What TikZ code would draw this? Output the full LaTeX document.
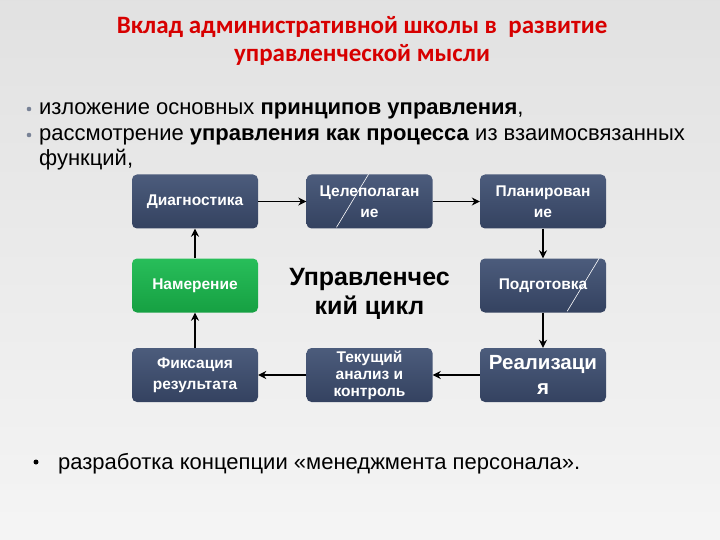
\documentclass[tikz,border=0pt]{standalone}
\usepackage{fontspec}
\setmainfont{Liberation Sans}
\newfontfamily\titlefont{Carlito}
\usetikzlibrary{arrows.meta}
\definecolor{bgc}{RGB}{234,234,234}
\definecolor{navytop}{RGB}{76,92,124}
\definecolor{navybot}{RGB}{52,66,96}
\definecolor{greentop}{RGB}{40,190,90}
\definecolor{greenbot}{RGB}{22,160,66}
\definecolor{titlered}{RGB}{215,0,0}
\definecolor{bulletc}{RGB}{120,130,150}
\tikzset{
  stepbox/.style={rounded corners=5pt, minimum width=126pt, minimum height=54pt,
    inner sep=1pt, align=center, text=white,
    font=\bfseries\fontsize{15.5}{20.5}\selectfont,
    top color=navytop, bottom color=navybot},
  greenbox/.style={stepbox, top color=greentop, bottom color=greenbot},
  flow/.style={-{Stealth[length=8pt,width=8pt]}, line width=1.6pt, black},
  gleam/.style={white, line width=0.6pt},
  bodytext/.style={anchor=base west, inner sep=0, font=\fontsize{22}{26}\selectfont},
  titletext/.style={anchor=base, inner sep=0, text=titlered, font=\titlefont\bfseries\fontsize{25}{28}\selectfont},
  cycletext/.style={anchor=base, inner sep=0, font=\bfseries\fontsize{25}{29}\selectfont},
}
\begin{document}
\begin{tikzpicture}[x=1pt,y=-1pt]
\useasboundingbox (0,0) rectangle (720,540);
\shade[top color=bgc!92!gray, bottom color=bgc!50!white] (0,0) rectangle (720,540);

% title
\node[titletext] (title1) at (362,34) {Вклад административной школы в \ развитие};
\node[titletext] (title2) at (362,62) {управленческой мысли};

% bullets
\fill[bulletc] (29,109) circle (2.3pt) coordinate (b1);
\fill[bulletc] (29,135) circle (2.3pt) coordinate (b2);
\node[bodytext] (l1) at (39,115) {изложение основных \textbf{принципов управления},};
\node[bodytext] (l2) at (39,141) {рассмотрение \textbf{управления как процесса} из взаимосвязанных};
\node[bodytext] (l3) at (39,166) {функций,};

% boxes
\node[stepbox] (diag) at (195,201.5) {Диагностика};
\node[stepbox] (cel) at (369.5,201.5) {Целеполаган\\ие};
\node[stepbox] (plan) at (543,201.5) {Планирован\\ие};
\node[greenbox] (nam) at (195,285.5) {Намерение};
\node[stepbox] (podg) at (543,285.5) {Подготовка};
\node[stepbox] (fix) at (195,375) {Фиксация\\результата};
\node[stepbox, font=\bfseries\fontsize{15.5}{17}\selectfont] (tek) at (369.5,375) {Текущий\\анализ и\\контроль};
\node[stepbox, font=\bfseries\fontsize{20.5}{25}\selectfont] (real) at (543,375) {Реализаци\\я};

\node[cycletext] (cycle1) at (369.5,285) {Управленчес};
\node[cycletext] (cycle2) at (369.5,314) {кий цикл};

% gleams
\draw[gleam] (cel.north) ++(-1,0) -- ++(-32,53);
\draw[gleam] (podg.north east) ++(-7,0) -- ++(-32,53);

% arrows
\draw[flow] (diag) -- (cel);
\draw[flow] (cel) -- (plan);
\draw[flow] (plan) -- (podg);
\draw[flow] (podg) -- (real);
\draw[flow] (real) -- (tek);
\draw[flow] (tek) -- (fix);
\draw[flow] (fix) -- (nam);
\draw[flow] (nam) -- (diag);

% last bullet
\fill[black] (36,462) circle (2.5pt) coordinate (b3);
\node[bodytext] (l4) at (58,469) {разработка концепции «менеджмента персонала».};
\end{tikzpicture}
\end{document}
